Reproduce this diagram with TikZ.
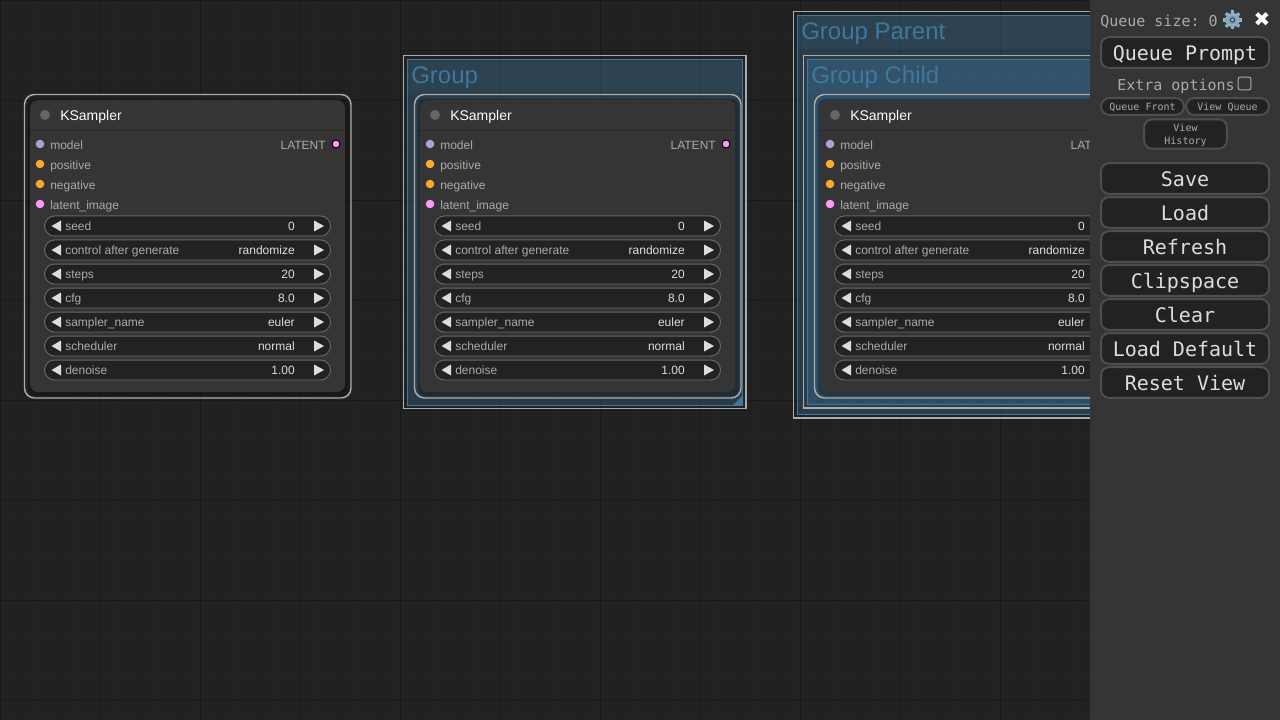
\documentclass[tikz,border=0pt]{standalone}
\usepackage{fontspec}
\setmainfont{Liberation Sans}
\setmonofont{DejaVu Sans Mono}
\newfontfamily\symfont{DejaVu Sans}
\definecolor{bgc}{HTML}{222222}
\definecolor{gridminor}{HTML}{1E1E1E}
\definecolor{gridmajor}{HTML}{191919}
\definecolor{bodyc}{HTML}{353535}
\definecolor{titlec}{HTML}{333333}
\definecolor{linec}{HTML}{2B2B2B}
\definecolor{labelc}{HTML}{AAAAAA}
\definecolor{valuec}{HTML}{DDDDDD}
\definecolor{wfill}{HTML}{222222}
\definecolor{wline}{HTML}{666666}
\definecolor{groupc}{HTML}{3F789E}
\definecolor{selc}{HTML}{ABABAB}
\definecolor{gearc}{HTML}{8FB4CC}
\definecolor{modelc}{HTML}{B39DDB}
\definecolor{condc}{HTML}{FFA931}
\definecolor{latentc}{HTML}{FF9CF9}
\definecolor{btnline}{HTML}{4E4E4E}
\tikzset{
  px/.style={x=.75pt,y=-.75pt},
  titletext/.style={anchor=base west,inner sep=0,font=\fontsize{10.5pt}{12pt}\selectfont,text=white},
  slottext/.style={anchor=base west,inner sep=0,font=\fontsize{9pt}{11pt}\selectfont,text=labelc},
  outtext/.style={anchor=base east,inner sep=0,font=\fontsize{9pt}{11pt}\selectfont,text=labelc},
  valtext/.style={anchor=base east,inner sep=0,font=\fontsize{9pt}{11pt}\selectfont,text=valuec},
  pin/.style={circle,inner sep=0,minimum size=6.4pt,fill=#1},
  grouptext/.style={anchor=base west,inner sep=0,font=\fontsize{18pt}{20pt}\selectfont,text=groupc},
  groupsel/.style={draw=selc,line width=1.1pt},
  groupframe/.style={draw=groupc,line width=.75pt,fill=groupc,fill opacity=.32},
  groupband/.style={fill=groupc,fill opacity=.1},
  nodesel/.style={draw=selc,line width=1.1pt,rounded corners=7.5pt},
  nodebody/.style={fill=bodyc,rounded corners=6pt},
  widget/.style={draw=wline,line width=.75pt,fill=wfill,rounded corners=7.5pt},
  btn/.style={draw=btnline,line width=1.5pt,fill=wfill,rounded corners=6pt,inner sep=0,
    text height=14.5pt,text depth=2.5pt,
    text=valuec,font=\ttfamily\fontsize{15pt}{18pt}\selectfont},
  smallbtn/.style={draw=btnline,line width=1.5pt,fill=wfill,rounded corners=6pt,inner sep=0,
    text=labelc,font=\ttfamily\fontsize{7.5pt}{9.7pt}\selectfont},
  smallone/.style={smallbtn,text height=9pt,text depth=2.25pt},
  paneltext/.style={inner sep=0,text=labelc,font=\ttfamily\fontsize{11.25pt}{13pt}\selectfont},
}
\newcommand{\ksampler}[2]{%
\begin{scope}[shift={(#1,0)}]
  \fill[black,opacity=.28,rounded corners=6pt] (28,99) rectangle (349,396);
  \draw[nodesel] (24.5,94.5) rectangle (351,398);
  \fill[nodebody] (30,100) rectangle (345,392);
  \draw[linec,line width=.75pt] (30,130.5) -- (345,130.5);
  \node[pin=wline,minimum size=7.5pt] (#2dot) at (45,115) {};
  \node[titletext] (#2title) at (60,121) {KSampler};
  \node[pin=modelc] (#2pa) at (40,144) {};
  \node[pin=condc] (#2pb) at (40,164) {};
  \node[pin=condc] (#2pc) at (40,184) {};
  \node[pin=latentc] (#2pd) at (40,204) {};
  \node[slottext] (#2la) at (50,150) {model};
  \node[slottext] (#2lb) at (50,170) {positive};
  \node[slottext] (#2lc) at (50,190) {negative};
  \node[slottext] (#2ld) at (50,210) {latent\_image};
  \node[outtext] (#2lo) at (326,150) {LATENT};
  \node[pin=latentc,draw=black,line width=.75pt,minimum size=6pt] (#2po) at (336,144) {};
  \foreach \yy/\nm/\vl [count=\ii] in {226/seed/0,250/control after generate/randomize,274/steps/20,298/cfg/8.0,322/sampler\_name/euler,346/scheduler/normal,370/denoise/1.00}{
    \draw[widget] (44.5,\yy-10) rectangle (330.5,\yy+10);
    \fill[wline!70!black] (52,\yy+9.5) -- (323,\yy+9.5) -- (323,\yy+10.5) -- (52,\yy+10.5) -- cycle;
    \fill[valuec] (61,\yy-5.5) -- (51.5,\yy) -- (61,\yy+5.5) -- cycle;
    \fill[valuec] (314,\yy-5.5) -- (324,\yy) -- (314,\yy+5.5) -- cycle;
    \node[slottext] (#2wn\ii) at (65,\yy+4) {\nm};
    \node[valtext] (#2wv\ii) at (295,\yy+4) {\vl};
  }
\end{scope}}
\begin{document}
\begin{tikzpicture}[px]
\useasboundingbox (0,0) rectangle (1280,720);
\clip (0,0) rectangle (1280,720);
\fill[bgc] (0,0) rectangle (1280,720);
\foreach \k in {0,...,127}{\draw[gridminor,line width=.75pt] (\k*10+.5,0) -- (\k*10+.5,720);}
\foreach \k in {0,...,72}{\draw[gridminor,line width=.75pt] (0,\k*10+.5) -- (1280,\k*10+.5);}
\foreach \k in {0,...,12}{\draw[gridmajor,line width=.75pt] (\k*100+.5,0) -- (\k*100+.5,720);}
\foreach \k in {0,...,7}{\draw[gridmajor,line width=.75pt] (0,\k*100+.5) -- (1280,\k*100+.5);}
% plain node
\ksampler{0}{a}
% Group
\draw[groupsel] (403.5,55.5) rectangle (746,408.5);
\draw[groupframe] (407.5,59.5) rectangle (742.5,405);
\fill[groupband] (408,60) rectangle (742,93);
\fill[groupc] (743,395) -- (743,405) -- (733,405) -- cycle;
\node[grouptext] (gone) at (411,83.5) {Group};
\ksampler{390}{b}
% Group Parent and Group Child
\draw[groupsel] (793.5,11.5) rectangle (1100,418);
\draw[groupframe] (797.5,15.5) rectangle (1100,414);
\fill[groupband] (798,16) rectangle (1100,49);
\node[grouptext] (gparent) at (801,39.5) {Group Parent};
\draw[groupsel] (803.5,55.5) rectangle (1100,408);
\draw[groupframe] (807.5,59.5) rectangle (1100,404);
\fill[groupband] (808,60) rectangle (1100,93);
\node[grouptext] (gchild) at (811,83.5) {Group Child};
\ksampler{790}{c}
% side panel
\fill[bodyc] (1090,0) rectangle (1280,720);
\node[paneltext,anchor=base west] (qsize) at (1100,27) {Queue size: 0};
\foreach \aa in {0,45,...,315}{
  \draw[gearc,line width=2.4pt] (1232.5,20)++(\aa:6.5) -- ++(\aa:3);
}
\fill[gearc!85!black,even odd rule] (1232.5,20) circle[radius=7.2] (1232.5,20) circle[radius=2.6];
\node[inner sep=0,text=gearc,font=\symfont\fontsize{15pt}{15pt}\selectfont] (gear) at (1232.5,20) {⚙};
\node[inner sep=0,text=white,font=\symfont\fontsize{15pt}{15pt}\selectfont] (closex) at (1262,19.5) {✖};
\node[btn,minimum width=126pt,minimum height=23pt] (qprompt) at (1185,52.5) {Queue Prompt};
\node[paneltext,anchor=base west] (extra) at (1117,91) {Extra options};
\node[draw=labelc,line width=.75pt,rounded corners=1.5pt,inner sep=0,minimum size=9.5pt,fill=bodyc] (check) at (1244.5,83.5) {};
\node[smallone,minimum width=62pt,minimum height=12.5pt] (qfront) at (1142.5,106.5) {Queue Front};
\node[smallone,minimum width=62pt,minimum height=12.5pt] (vqueue) at (1227.5,106.5) {View Queue};
\node[smallbtn,align=center,minimum width=62pt,minimum height=22pt] (vhist) at (1185.5,134) {\rule{0pt}{7.1pt}View\\History};
\foreach \yy/\nm [count=\ii] in {178.5/Save,212.5/Load,246.5/Refresh,280.5/Clipspace,314.5/Clear,348.5/Load Default,382.5/Reset View}{
  \node[btn,minimum width=126pt,minimum height=23pt] (menu\ii) at (1185,\yy) {\nm};
}
\end{tikzpicture}
\end{document}
